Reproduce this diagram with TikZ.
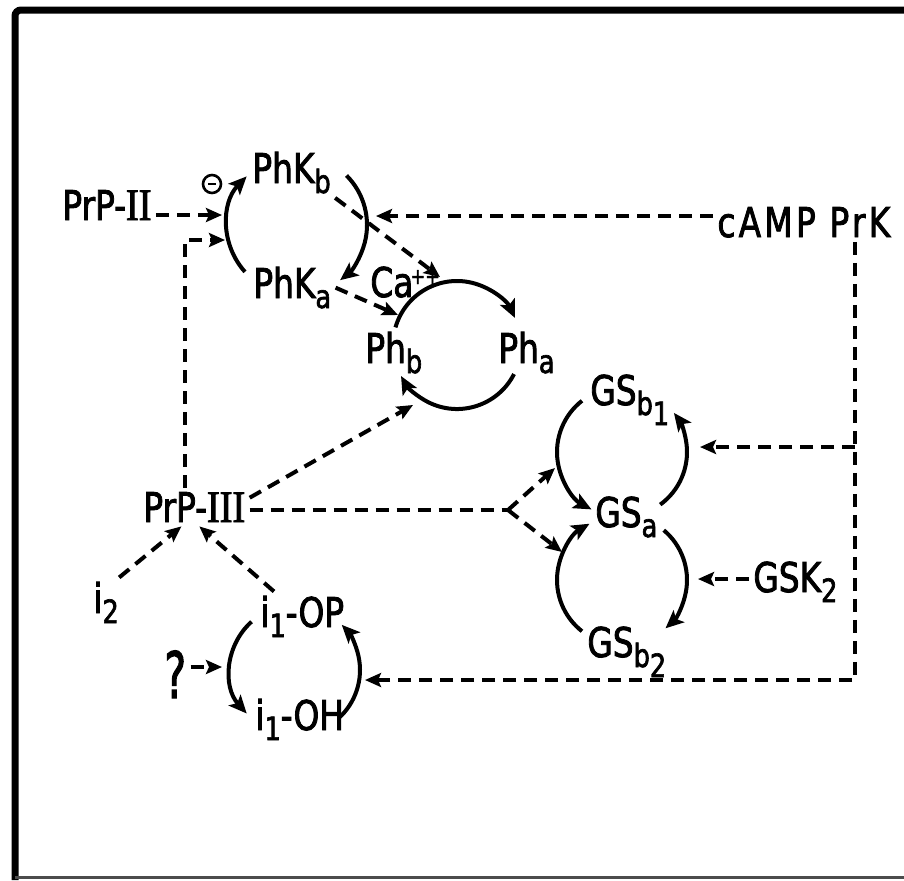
\documentclass[tikz,border=0pt]{standalone}
\usepackage{fontspec}
\setmainfont[FakeStretch=0.8, FakeBold=2]{DejaVu Sans}
\newfontfamily\numfont[Scale=1.1, FakeStretch=0.85, FakeBold=2]{Liberation Serif}
\usepackage{graphicx}
\usetikzlibrary{arrows.meta}
\newcommand{\sbs}[1]{\raisebox{-5pt}{\fontsize{16}{16}\selectfont #1}}

\begin{document}
\begin{tikzpicture}[
  x=0.5pt, y=0.5pt,
  lbl/.style={anchor=base west, inner sep=2pt, font=\fontsize{20.5}{24}\selectfont},
  cyc/.style={line width=2pt, -{Stealth[length=9pt, width=8pt, inset=2pt]}},
  dar/.style={line width=2pt, dash pattern=on 6.5pt off 4pt, -{Stealth[length=8pt, width=7pt, inset=1.5pt]}},
  dln/.style={line width=2pt, dash pattern=on 6.5pt off 4pt}
]
  \useasboundingbox (0,0) rectangle (904,-880);
  % frame
  \draw[line width=3.5pt, rounded corners=3pt] (904,-10) -- (15,-10) -- (15,-880);
  \draw[line width=1.5pt, black!70] (15,-877) -- (904,-877);

  % labels
  \node[lbl] (prpii) at (58,-220) {PrP-{\numfont II}};
  \node[circle, draw, line width=1.3pt, minimum size=9pt, inner sep=0pt] (inh) at (212,-184) {\rule{4pt}{1.3pt}};
  \node[lbl] (phkb) at (248,-183) {PhK\sbs{b}};
  \node[lbl] (phka) at (249,-298) {PhK\sbs{a}};
  \node[lbl] (ca) at (366,-297) {Ca\kern-1.5pt\raisebox{6.5pt}{\fontsize{11}{11}\selectfont ++}};
  \node[lbl] (phb) at (361,-363) {Ph\sbs{b}};
  \node[lbl] (pha) at (494,-363) {Ph\sbs{a}};
  \node[lbl] (camp) at (713,-237) {\addfontfeature{LetterSpace=8}cAMP PrK};
  \node[lbl] (gsbone) at (586,-405) {GS\sbs{b\sbs{1}}};
  \node[lbl] (gsa) at (591,-527) {GS\sbs{a}};
  \node[lbl] (gsbtwo) at (583,-657) {GS\sbs{b\sbs{2}}};
  \node[lbl] (gsktwo) at (749,-592) {GSK\sbs{2}};
  \node[lbl] (prpiii) at (139,-522) {PrP-{\numfont III}};
  \node[lbl] (itwo) at (89,-613) {i\sbs{2}};
  \node[lbl] (iop) at (256,-627) {i\sbs{1}-OP};
  \node[lbl] (ioh) at (251,-730) {i\sbs{1}-OH};
  \node[lbl] (qm) at (160,-698) {\scalebox{0.8}[1]{\fontsize{32}{32}\selectfont ?}};

  % cycles
  \coordinate (cyone) at (297,-225);
  \draw[cyc] ([shift={(222:70)}]cyone) arc[start angle=222, end angle=136, radius=70];
  \draw[cyc] ([shift={(45:70)}]cyone) arc[start angle=45, end angle=-52, radius=70];
  \coordinate (cytwo) at (457,-345);
  \draw[cyc] ([shift={(164:64)}]cytwo) arc[start angle=164, end angle=25, radius=64];
  \draw[cyc] ([shift={(-27:64)}]cytwo) arc[start angle=-27, end angle=-151, radius=64];
  \coordinate (cythree) at (622,-452);
  \draw[cyc] ([shift={(128:65)}]cythree) arc[start angle=128, end angle=242, radius=65];
  \draw[cyc] ([shift={(-54:65)}]cythree) arc[start angle=-54, end angle=37, radius=65];
  \coordinate (cyfour) at (622,-580);
  \draw[cyc] ([shift={(232:65)}]cyfour) arc[start angle=232, end angle=120, radius=65];
  \draw[cyc] ([shift={(50:65)}]cyfour) arc[start angle=50, end angle=-48, radius=65];
  \coordinate (cyfive) at (295,-670);
  \draw[cyc] ([shift={(132:65)}]cyfive) arc[start angle=132, end angle=222, radius=65];
  \draw[cyc] ([shift={(-48:65)}]cyfive) arc[start angle=-48, end angle=44, radius=65];

  % ends of the dashed arrows
  \coordinate (pkinone) at (222,-215);
  \coordinate (pkintwo) at (225,-240);
  \coordinate (pkinthree) at (376,-216);
  \coordinate (phinone) at (440,-277);
  \coordinate (phintwo) at (398,-315);
  \coordinate (phinthree) at (413,-405);
  \coordinate (fork) at (508,-510);
  \coordinate (gsinone) at (555,-468);
  \coordinate (gsintwo) at (562,-552);
  \coordinate (gsinthree) at (700,-447);
  \coordinate (gsinfour) at (698,-579);
  \coordinate (corner) at (855,-680);
  \coordinate (iinone) at (365,-680);
  \coordinate (iintwo) at (222,-667);

  % dashed arrows
  \draw[dar] (prpii.east |- pkinone) -- (pkinone);
  \draw[dar] ([xshift=23pt]prpiii.north west) |- (pkintwo);
  \draw[dar] (camp.west |- pkinthree) -- (pkinthree);
  \draw[dar] (phkb.south east) -- (phinone);
  \draw[dar] (phka.east) -- (phintwo);
  \draw[dar] ([yshift=-5pt]prpiii.north east) -- (phinthree);
  \draw[dln] (prpiii.east |- fork) -- (fork);
  \draw[dar] (fork) -- (gsinone);
  \draw[dar] (fork) -- (gsintwo);
  \draw[dar] (camp.south -| corner) -- (corner) -- (iinone);
  \draw[dar] (corner |- gsinthree) -- (gsinthree);
  \draw[dar] (gsktwo.west |- gsinfour) -- (gsinfour);
  \draw[dar] ([xshift=-2pt]itwo.north east) -- ([xshift=-6.5pt]prpiii.south);
  \draw[dar] ([xshift=9pt]iop.north west) -- ([xshift=2.5pt]prpiii.south);
  \draw[dar] (qm.east |- iintwo) -- (iintwo);
\end{tikzpicture}
\end{document}
